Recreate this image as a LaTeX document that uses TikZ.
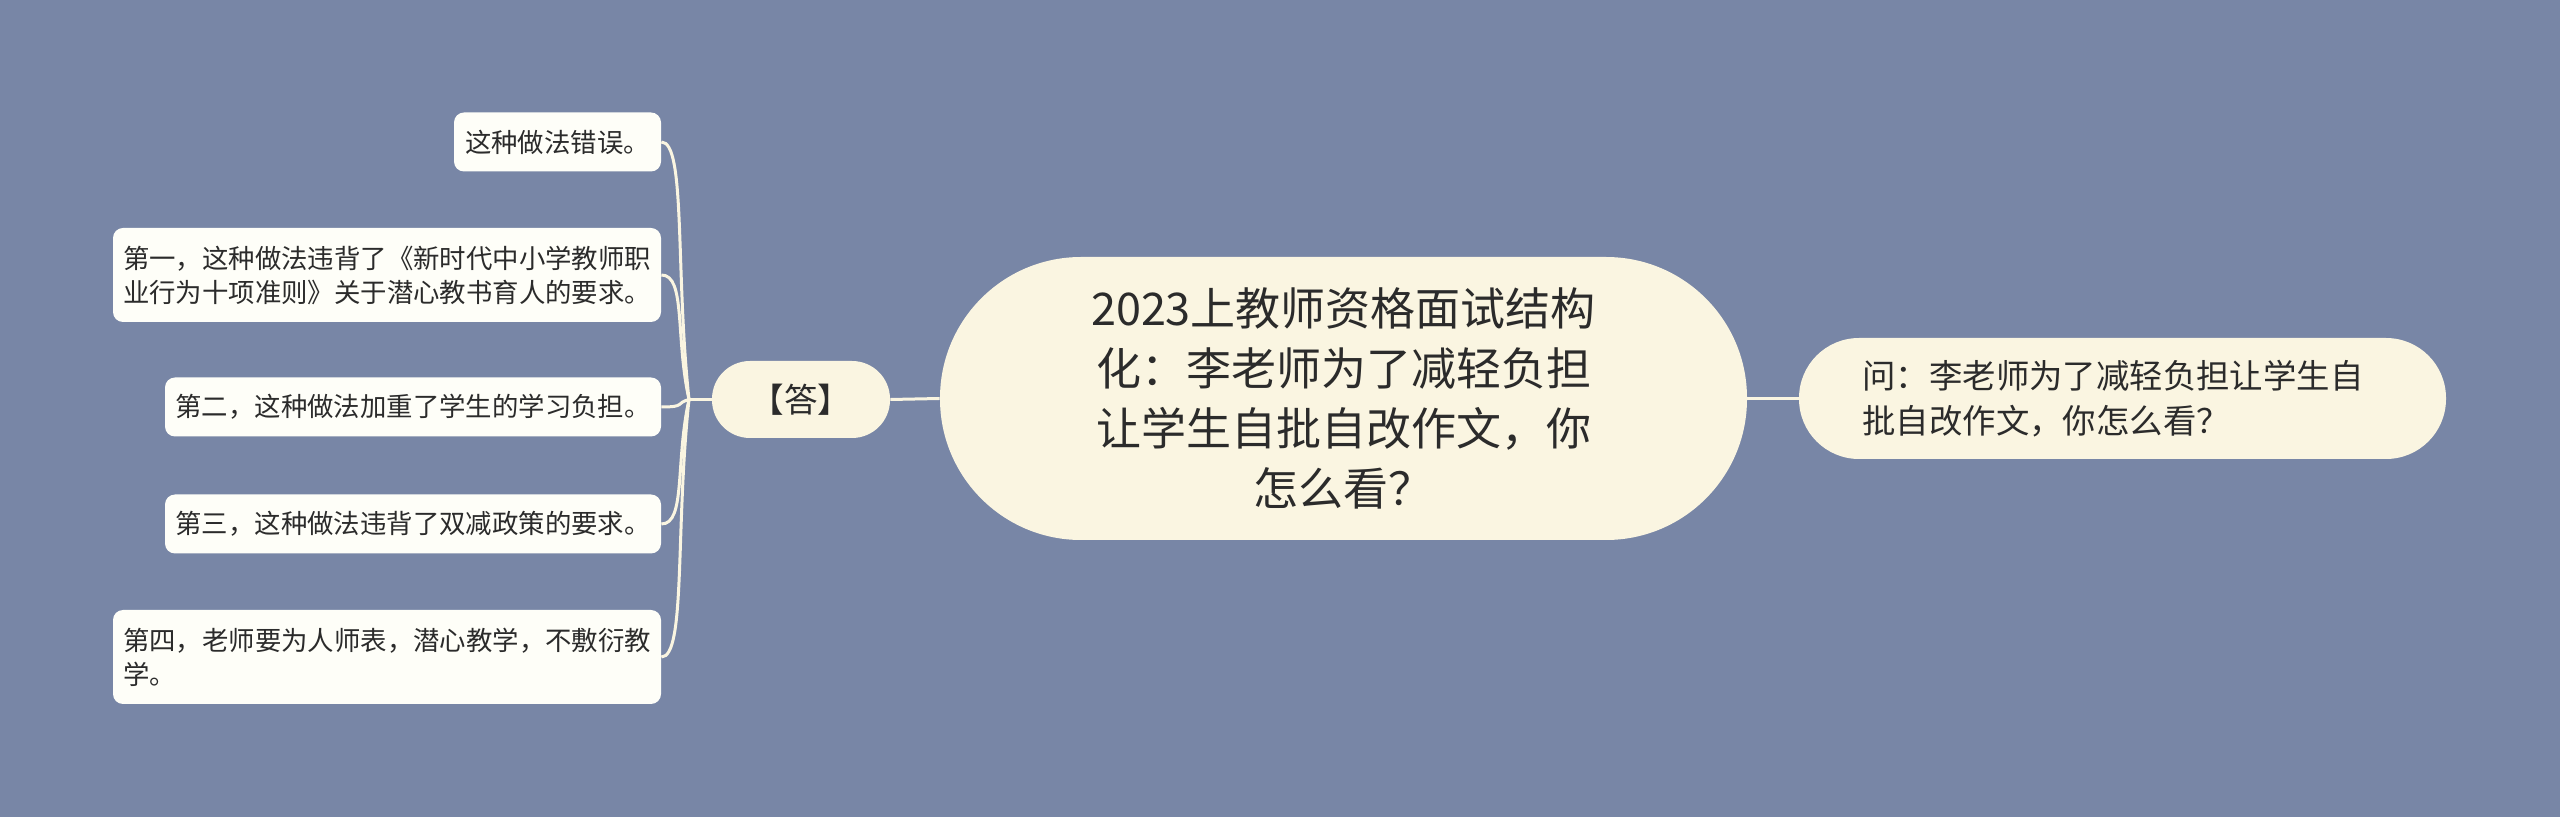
\documentclass[tikz,border=0pt]{standalone}
\usepackage{fontspec}
\setmainfont{Noto Sans CJK SC}
\usetikzlibrary{calc}
\definecolor{bgc}{HTML}{7886A6}
\definecolor{cream}{HTML}{FAF5E1}
\definecolor{leaffill}{HTML}{FEFEF8}
\definecolor{txt}{HTML}{2B2B2B}
\tikzset{
  leaf/.style={fill=leaffill, rounded corners=5pt, inner sep=0pt, text=txt,
    font=\fontsize{13.2}{17}\selectfont},
  conn/.style={draw=cream, line width=1.5pt},
}
\begin{document}
\begin{tikzpicture}[x=0.5pt,y=-0.5pt]
\fill[bgc] (0,0) rectangle (2560,817);
\useasboundingbox (0,0) rectangle (2560,817);

% central topic
\node[fill=cream, rounded corners=70.5pt, inner sep=0pt, minimum width=403.5pt, minimum height=141.5pt,
      text=txt, align=center, font=\fontsize{22.5}{30}\selectfont] (ctr) at (1343.5,398.5)
  {2023上教师资格面试结构\\化：李老师为了减轻负担\\让学生自批自改作文，你\\怎么看？};

% right question
\node[fill=cream, rounded corners=30pt, inner sep=0pt, minimum width=323.5pt, minimum height=60.5pt,
      text=txt, text width=260pt, align=left, font=\fontsize{16.7}{22.5}\selectfont] (rq) at (2122.5,398.5)
  {问：李老师为了减轻负担让学生自\\批自改作文，你怎么看？};

% answer node
\node[fill=cream, rounded corners=19pt, inner sep=0pt, minimum width=89pt, minimum height=38.5pt,
      text=txt, font=\fontsize{16.8}{20}\selectfont] (ans) at (801,399.5) {【答】};

% leaves
\node[leaf, minimum width=103.5pt, minimum height=29.5pt] (c1) at (557.5,142) {这种做法错误。};
\node[leaf, minimum width=274pt, minimum height=47pt, text width=264pt, align=left] (c2) at (387,275)
  {第一，这种做法违背了《新时代中小学教师职\\业行为十项准则》关于潜心教书育人的要求。};
\node[leaf, minimum width=248pt, minimum height=29.5pt] (c3) at (413,407) {第二，这种做法加重了学生的学习负担。};
\node[leaf, minimum width=248pt, minimum height=29.5pt] (c4) at (413,524) {第三，这种做法违背了双减政策的要求。};
\node[leaf, minimum width=274pt, minimum height=47pt, text width=264pt, align=left] (c5) at (387,657)
  {第四，老师要为人师表，潜心教学，不敷衍教\\学。};

% connectors
\coordinate (trunk) at (689,399.5);
\coordinate (tx) at (686,0);
\draw[conn] (ctr.east) -- (rq.west);
\draw[conn] (ans.east) -- (ctr.west);
\draw[conn] (ans.west) -- (trunk);
\foreach \c in {c1,c2,c3,c4,c5}{
  \draw[conn] (trunk) .. controls ($(trunk)!0.5!(\c.east)$ -| tx) and (\c.east -| tx) .. (\c.east);
}
\end{tikzpicture}
\end{document}
